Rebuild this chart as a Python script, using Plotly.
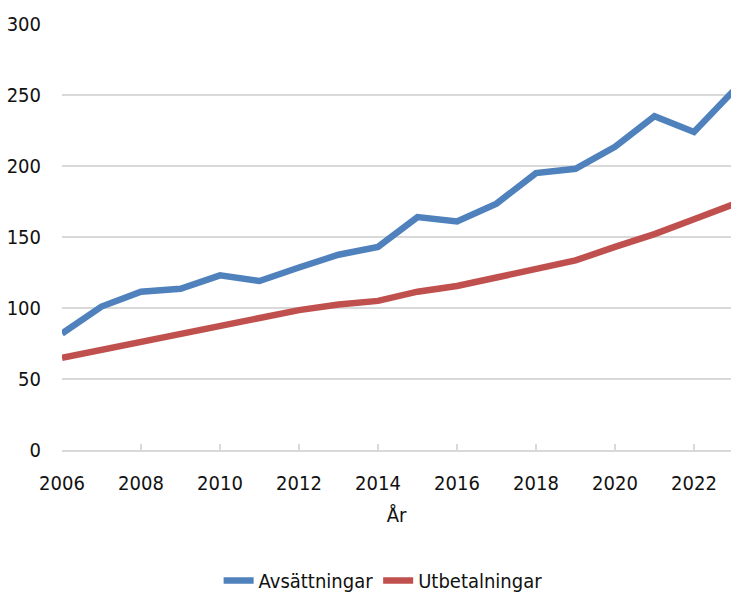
import plotly.graph_objects as go

years = list(range(2006, 2024))
avsattningar = [82, 101, 111.5, 113.5, 123, 119, 128.5, 137.5, 143, 164, 161, 173.5, 195, 198, 213.5, 235, 224, 253]
utbetalningar = [65, 70.5, 76, 81.5, 86.5, 93, 98.5, 102.5, 105, 111.5, 115.5, 121.5, 128, 133.5, 143, 152, 162.5, 173]

FONT = "DejaVu Sans Condensed"
fig = go.Figure()
fig.add_trace(go.Scatter(x=years, y=avsattningar, mode="lines", name="Avsättningar",
                         line=dict(color="#4f81bd", width=6.5)))
fig.add_trace(go.Scatter(x=years, y=utbetalningar, mode="lines", name="Utbetalningar",
                         line=dict(color="#c0504d", width=6.5)))

fig.update_layout(
    width=731, height=600,
    margin=dict(l=62, r=0, t=24.3, b=144.6),
    paper_bgcolor="white", plot_bgcolor="white",
    font=dict(family=FONT, size=20, color="#111111"),
    showlegend=True,
    legend=dict(orientation="h", xanchor="center", x=0.48, yanchor="middle", y=-0.308,
                font=dict(family=FONT, size=20), itemwidth=30),
    xaxis=dict(range=[2006, 2022.937], tick0=2006, dtick=2, showgrid=False, zeroline=False,
               automargin=False,
               showline=True, linecolor="#d9d9d9", linewidth=2,
               ticks="inside", ticklen=6, tickcolor="#d9d9d9", tickwidth=1.5,
               ticklabelstandoff=14,
               title=dict(text="År", standoff=14, font=dict(family=FONT, size=20))),
    yaxis=dict(range=[0, 300], dtick=50, showgrid=True, gridcolor="#d9d9d9", gridwidth=1.5,
               automargin=False,
               zeroline=False, showline=False, ticks="", ticklabelstandoff=20),
)
fig.write_html(
    "out.html",
    config={"displayModeBar": False},
    post_script=(
        "document.body.style.margin='0';"
        "document.documentElement.style.overflow='hidden';"
        "var gd=document.getElementById('{plot_id}');"
        "gd.style.position='fixed';gd.style.left='0';gd.style.top='0';"
    ),
)
